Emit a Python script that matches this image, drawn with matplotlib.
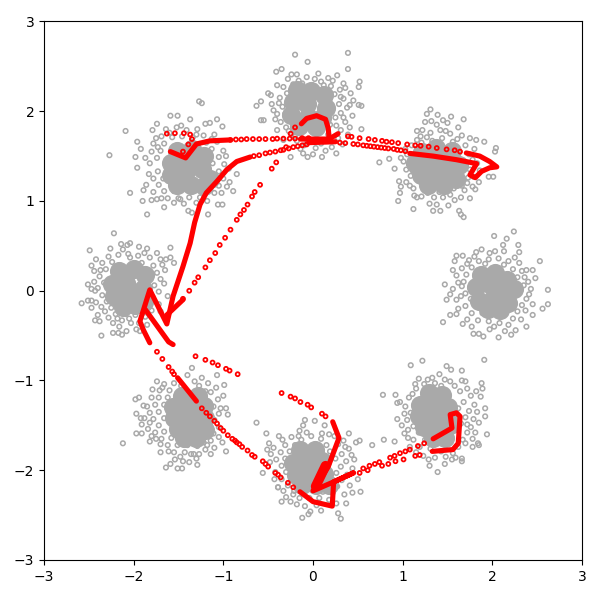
# Ring of eight point clouds with the red tracks drawn over them.

import matplotlib
matplotlib.use("Agg")
import matplotlib.pyplot as plt


gray_top = [
    (-0.20,2.63),(0.39,2.65),(-0.06,2.55),(0.39,2.47),(0.52,2.33),(0.51,2.27),(0.51,2.07),(0.54,2.06),(0.41,1.82),
    (0.54,1.80),(0.26,1.53),(0.10,1.49),(-0.06,1.49),(-0.41,2.44),(-0.35,2.47),(-0.50,2.20),(-0.47,2.18),(-0.58,2.11),
    (-0.63,2.06),(-0.58,1.90),(-0.55,1.90),(-0.42,1.91),(-0.40,1.97),(-0.40,1.79),(-0.25,1.49),(-0.11,1.53),(0.00,1.52),
    (-0.28,2.36),(-0.18,2.41),(-0.07,2.38),(0.06,2.42),(0.17,2.37),(0.27,2.40),(0.34,2.31),(-0.33,2.27),(-0.22,2.30),
    (-0.12,2.31),(-0.01,2.29),(0.09,2.33),(0.20,2.28),(0.30,2.24),(0.42,2.20),(-0.37,2.15),(-0.29,2.20),(0.24,2.19),
    (0.34,2.14),(0.45,2.12),(-0.34,2.05),(0.38,2.04),(-0.31,1.97),(0.31,1.98),(0.44,1.95),(-0.27,1.90),(0.25,1.93),
    (0.36,1.88),(-0.30,1.82),(0.19,1.85),(0.31,1.79),(-0.24,1.75),(0.17,1.74),(0.28,1.70),(-0.18,1.67),(-0.06,1.66),
    (0.09,1.64),(0.21,1.60),(-0.33,1.68),(-0.14,1.58),(0.33,1.63),(-0.24,2.41),(0.12,2.29),(0.36,2.26),(0.41,2.07),
    (0.29,2.08),(0.34,1.93),(0.26,1.84),(0.39,1.74),(-0.38,2.09),(-0.44,2.01),(-0.36,1.88),(-0.27,1.78),(-0.20,1.72),
    (-0.10,1.62),(0.03,1.59),(0.14,1.56),(-0.16,2.34),(0.02,2.36),(0.22,2.34),(0.31,2.16),(-0.40,2.29),(-0.46,2.08),
]
gray_upper_right = [
    (1.31,2.02),(1.27,1.97),(1.39,1.96),(1.54,1.94),(1.68,1.91),(1.45,1.90),(1.32,1.89),(1.25,1.88),(1.50,1.87),
    (1.62,1.82),(1.38,1.85),(1.16,1.78),(1.22,1.79),(1.82,1.68),(1.91,1.66),(2.04,1.59),(2.03,1.55),(0.74,1.43),
    (0.85,1.47),(0.91,1.36),(0.96,1.22),(0.98,1.16),(0.97,1.09),(0.95,1.00),(1.12,0.91),(1.16,1.04),(1.30,0.97),
    (1.38,0.96),(1.34,0.89),(1.42,0.89),(1.51,0.95),(1.63,0.89),(1.65,0.85),(1.68,0.82),(1.75,1.03),(1.81,1.13),
    (1.85,1.21),(1.96,1.27),(2.01,1.27),(1.20,1.72),(1.31,1.76),(1.42,1.79),(1.53,1.75),(1.66,1.73),(1.75,1.70),
    (1.10,1.62),(1.21,1.65),(1.33,1.67),(1.44,1.70),(1.56,1.66),(1.70,1.62),(1.80,1.58),(1.05,1.52),(1.74,1.52),
    (1.01,1.44),(1.83,1.42),(1.04,1.35),(1.75,1.35),(1.09,1.28),(1.79,1.27),(1.04,1.21),(1.72,1.20),(1.12,1.14),
    (1.23,1.17),(1.57,1.14),(1.69,1.12),(1.28,1.09),(1.41,1.10),(1.53,1.07),(1.65,1.04),(1.21,1.05),(1.27,1.71),
    (1.48,1.78),(1.61,1.69),(1.16,1.68),(1.03,1.58),(0.98,1.48),(1.07,1.41),(1.11,1.34),(1.78,1.46),(1.68,1.41),
    (1.86,1.34),(1.73,1.26),(1.66,1.17),(1.45,1.04),(1.35,1.04),(1.13,1.06),(1.08,1.17),(1.58,1.01),(1.78,1.16),
]
gray_right = [
    (2.02,0.61),(2.24,0.66),(2.16,0.58),(2.29,0.51),(2.12,0.51),(1.88,0.46),(1.82,0.43),(1.97,0.42),(2.03,0.44),
    (2.13,0.44),(1.60,0.39),(1.67,0.39),(1.58,0.33),(2.53,0.33),(2.45,0.23),(2.62,0.01),(1.47,0.07),(2.48,0.14),
    (2.38,0.23),(2.36,0.15),(2.62,-0.15),(2.56,-0.20),(2.45,-0.27),(1.45,-0.35),(1.53,-0.27),(1.62,-0.20),(1.67,-0.37),
    (1.79,-0.48),(1.85,-0.48),(1.90,-0.51),(2.07,-0.52),(2.21,-0.49),(2.26,-0.44),(2.38,-0.40),(1.97,-0.43),(1.49,-0.10),
    (1.62,0.09),(1.74,0.34),(1.85,0.33),(1.96,0.35),(2.07,0.36),(2.18,0.33),(2.30,0.31),(1.66,0.25),(1.77,0.26),
    (2.23,0.24),(2.33,0.22),(1.60,0.17),(1.71,0.18),(2.28,0.15),(1.68,0.10),(2.35,0.06),(1.56,0.02),(1.70,-0.03),
    (2.30,0.00),(2.43,0.02),(2.38,-0.09),(1.60,-0.10),(1.76,-0.09),(2.33,-0.16),(1.70,-0.17),(2.28,-0.23),(1.77,-0.25),
    (1.89,-0.25),(2.12,-0.28),(2.23,-0.31),(1.72,-0.32),(1.84,-0.33),(1.96,-0.34),(2.08,-0.36),(2.18,-0.38),(1.92,0.30),
    (2.13,0.29),(1.72,0.30),(1.80,0.38),(2.25,0.37),(2.40,0.10),(2.41,-0.04),(2.37,-0.22),(2.32,-0.32),(1.65,-0.06),
    (1.60,-0.26),(1.77,-0.40),(2.02,-0.40),(2.14,-0.45),(1.66,0.05),(1.53,-0.04),(1.56,0.23),(2.45,-0.15),(2.30,0.43),
]
gray_lower_right = [
    (1.91,-0.77),(1.22,-0.78),(1.09,-0.83),(1.49,-0.84),(1.66,-0.89),(1.54,-0.88),(1.41,-0.93),(1.33,-0.97),(1.18,-0.98),
    (1.66,-1.00),(1.88,-1.03),(1.89,-1.09),(0.78,-1.16),(0.92,-1.16),(0.94,-1.25),(0.97,-1.24),(1.87,-1.18),(1.92,-1.31),
    (1.92,-1.40),(1.83,-1.35),(0.94,-1.43),(1.85,-1.47),(1.94,-1.60),(1.06,-1.55),(1.06,-1.64),(0.79,-1.66),(0.91,-1.68),
    (1.78,-1.65),(1.84,-1.70),(1.85,-1.72),(1.78,-1.74),(1.66,-1.87),(1.66,-1.90),(1.55,-1.88),(1.47,-1.93),(1.30,-1.95),
    (1.39,-2.02),(1.24,-1.04),(1.36,-1.03),(1.47,-0.99),(1.58,-1.06),(1.72,-1.09),(1.15,-1.09),(1.76,-1.17),(1.07,-1.19),
    (1.68,-1.24),(1.80,-1.27),(1.03,-1.29),(1.14,-1.27),(1.62,-1.31),(1.74,-1.34),(1.09,-1.36),(1.70,-1.41),(1.79,-1.43),
    (1.05,-1.44),(1.65,-1.48),(1.76,-1.52),(1.12,-1.51),(1.60,-1.55),(1.72,-1.58),(1.02,-1.59),(1.18,-1.58),(1.67,-1.66),
    (1.12,-1.66),(1.25,-1.66),(1.62,-1.74),(1.08,-1.74),(1.19,-1.74),(1.31,-1.76),(1.43,-1.79),(1.56,-1.81),(1.23,-1.84),
    (1.36,-1.86),(1.14,-1.04),(1.28,-0.99),(1.43,-1.06),(1.53,-1.01),(1.64,-1.12),(1.70,-1.01),(1.82,-1.12),(1.11,-1.15),
    (1.02,-1.37),(0.99,-1.50),(1.70,-1.70),(1.48,-1.85),(1.15,-1.80),(1.29,-1.88),(1.72,-1.49),(1.81,-1.58),(1.59,-1.86),
]
gray_bottom = [
    (0.40,-1.59),(-0.09,-1.44),(0.02,-1.45),(-0.11,-1.50),(-0.15,-1.56),(0.13,-1.50),(0.52,-1.67),(0.48,-1.69),(0.66,-1.72),
    (0.36,-1.74),(0.40,-1.76),(0.46,-1.88),(0.53,-2.24),(0.41,-2.17),(0.37,-2.37),(0.28,-2.48),(0.31,-2.54),(0.09,-2.45),
    (-0.03,-2.46),(-0.05,-2.49),(-0.12,-2.53),(-0.35,-2.35),(-0.39,-2.19),(-0.33,-2.23),(-0.22,-2.27),(-0.09,-2.40),(-0.63,-1.47),
    (-0.52,-1.59),(-0.38,-1.62),(-0.49,-1.70),(-0.51,-1.77),(-0.44,-1.75),(-0.48,-1.91),(-0.56,-2.03),(-0.39,-2.19),(-0.24,-1.63),
    (-0.13,-1.66),(-0.02,-1.62),(0.09,-1.65),(0.24,-1.62),(-0.31,-1.72),(-0.20,-1.72),(0.15,-1.72),(0.28,-1.71),(-0.36,-1.80),
    (-0.26,-1.79),(0.19,-1.79),(0.32,-1.82),(-0.41,-1.88),(-0.31,-1.87),(0.25,-1.87),(0.37,-1.90),(-0.35,-1.95),(0.31,-1.96),
    (0.44,-1.98),(-0.42,-2.02),(-0.30,-2.02),(0.26,-2.03),(0.38,-2.05),(-0.35,-2.10),(-0.24,-2.09),(0.32,-2.11),(-0.28,-2.17),
    (0.27,-2.18),(-0.21,-2.23),(-0.11,-2.23),(0.11,-2.24),(0.22,-2.25),(-0.15,-2.31),(-0.04,-2.31),(0.07,-2.31),(0.18,-2.33),
    (-0.25,-2.35),(-0.07,-1.58),(0.18,-1.60),(0.34,-1.67),(0.43,-1.83),(0.50,-2.10),(0.35,-2.27),(0.26,-2.37),(-0.18,-2.38),
    (-0.30,-2.30),(-0.43,-2.10),(-0.47,-1.82),(-0.34,-1.66),(-0.16,-1.62),(0.10,-1.59),(0.44,-2.25),(0.04,-2.39),
]
gray_lower_left = [
    (-1.35,-0.86),(-1.40,-0.94),(-1.07,-0.94),(-1.24,-0.97),(-1.74,-1.01),(-0.99,-1.05),(-1.79,-1.10),(-1.80,-1.19),(-1.98,-1.21),
    (-1.94,-1.19),(-0.97,-1.31),(-1.03,-1.31),(-1.89,-1.28),(-1.85,-1.29),(-1.97,-1.37),(-1.92,-1.42),(-1.88,-1.42),(-1.91,-1.49),
    (-0.95,-1.38),(-1.84,-1.54),(-1.97,-1.59),(-1.91,-1.59),(-2.12,-1.70),(-1.82,-1.68),(-1.70,-1.80),(-0.97,-1.79),(-1.01,-1.69),
    (-1.14,-1.82),(-1.20,-1.77),(-1.33,-1.82),(-1.27,-1.82),(-1.30,-1.87),(-1.45,-1.90),(-1.38,-1.91),(-1.29,-1.94),(-1.59,-1.93),
    (-1.54,-1.88),(-1.64,-1.97),(-1.51,-1.98),(-1.46,-1.98),(-1.66,-1.04),(-1.55,-1.03),(-1.32,-1.01),(-1.17,-1.03),(-1.08,-1.08),
    (-1.71,-1.11),(-1.60,-1.11),(-1.14,-1.13),(-1.72,-1.19),(-1.62,-1.19),(-1.06,-1.21),(-1.76,-1.27),(-1.66,-1.27),(-1.11,-1.29),
    (-1.72,-1.35),(-1.05,-1.37),(-1.78,-1.43),(-1.66,-1.42),(-1.10,-1.44),(-1.72,-1.50),(-1.05,-1.52),(-1.76,-1.58),(-1.66,-1.57),
    (-1.11,-1.59),(-1.69,-1.65),(-1.58,-1.64),(-1.14,-1.67),(-1.62,-1.72),(-1.51,-1.72),(-1.40,-1.72),(-1.29,-1.73),(-1.18,-1.72),
    (-1.55,-1.80),(-1.43,-1.80),(-1.36,-1.82),(-1.47,-1.06),(-1.27,-1.06),(-1.82,-1.36),(-1.68,-1.08),(-1.82,-1.47),(-1.05,-1.63),
    (-1.10,-1.75),(-1.22,-1.69),(-1.48,-1.85),(-1.61,-1.79),(-1.70,-1.71),(-1.80,-1.62),(-1.20,-1.12),(-1.00,-1.17),(-1.75,-1.65),
]
gray_left = [
    (-2.22,0.64),(-2.49,0.45),(-2.26,0.47),(-2.14,0.52),(-2.07,0.51),(-2.04,0.53),(-1.94,0.49),(-1.85,0.47),(-2.47,0.28),
    (-2.37,0.23),(-1.59,0.48),(-1.74,0.42),(-1.70,0.35),(-1.64,0.35),(-1.59,0.37),(-2.51,0.07),(-2.47,0.02),(-2.43,0.00),
    (-1.65,0.23),(-1.55,0.31),(-2.58,-0.14),(-2.51,-0.11),(-2.47,-0.11),(-2.43,-0.33),(-2.38,-0.34),(-2.36,-0.50),(-2.23,-0.47),
    (-2.17,-0.47),(-2.13,-0.49),(-2.08,-0.45),(-2.16,-0.40),(-1.97,-0.43),(-1.93,-0.45),(-2.03,-0.36),(-2.32,-0.23),(-2.23,-0.36),
    (-2.28,0.38),(-2.17,0.40),(-2.06,0.41),(-1.95,0.39),(-1.82,0.37),(-2.35,0.31),(-2.24,0.32),(-1.91,0.31),(-1.78,0.28),
    (-2.31,0.24),(-1.74,0.20),(-2.38,0.16),(-1.70,0.13),(-2.33,0.09),(-1.77,0.06),(-2.40,0.03),(-1.72,-0.01),(-2.35,-0.05),
    (-1.79,-0.07),(-2.42,-0.13),(-2.30,-0.12),(-1.72,-0.15),(-2.36,-0.18),(-2.25,-0.19),(-1.80,-0.22),(-2.20,-0.26),(-2.09,-0.26),
    (-1.98,-0.27),(-1.87,-0.29),(-2.28,-0.30),(-2.13,-0.33),(-1.94,-0.36),(-2.42,0.35),(-2.12,0.46),(-1.88,0.42),(-1.68,0.29),
    (-1.66,0.08),(-1.62,-0.06),(-1.70,-0.23),(-1.85,-0.38),(-2.05,-0.31),(-2.18,-0.31),(-2.40,-0.27),(-2.47,-0.19),(-2.44,0.10),
    (-2.44,0.22),(-2.04,0.37),
]
gray_upper_left = [
    (-1.27,2.11),(-1.24,2.09),(-1.59,1.95),(-1.51,1.95),(-1.37,1.91),(-1.07,1.91),(-1.74,1.86),(-2.09,1.78),(-2.27,1.51),
    (-1.79,1.79),(-1.96,1.66),(-1.92,1.58),(-1.98,1.49),(-1.96,1.37),(-2.04,1.09),(-1.89,1.12),(-1.90,1.00),(-1.85,0.85),
    (-1.66,0.93),(-1.39,0.89),(-1.35,0.87),(-1.17,0.85),(-1.06,0.96),(-1.01,0.96),(-0.89,1.11),(-0.85,1.30),(-1.01,1.83),
    (-1.15,1.87),(-1.20,1.86),(-1.64,1.80),(-1.52,1.82),(-1.41,1.79),(-1.29,1.80),(-1.69,1.72),(-1.57,1.71),(-1.46,1.72),
    (-1.34,1.71),(-1.22,1.73),(-1.10,1.74),(-1.78,1.64),(-1.66,1.64),(-1.19,1.65),(-1.07,1.66),(-1.80,1.55),(-1.70,1.56),
    (-1.13,1.58),(-1.00,1.56),(-1.74,1.48),(-1.05,1.49),(-1.82,1.42),(-1.12,1.42),(-0.99,1.41),(-1.73,1.33),(-1.05,1.33),
    (-1.78,1.25),(-1.67,1.25),(-1.00,1.25),(-1.72,1.18),(-1.05,1.17),(-1.78,1.10),(-1.66,1.11),(-1.55,1.11),(-1.10,1.09),
    (-1.62,1.03),(-1.50,1.03),(-1.38,1.04),(-1.26,1.04),(-1.74,1.02),(-1.55,0.98),(-1.44,0.97),(-1.75,1.70),(-1.60,1.76),
    (-1.47,1.84),(-1.30,1.74),(-1.13,1.69),(-0.97,1.50),(-0.94,1.36),(-0.93,1.21),(-1.83,1.30),(-1.86,1.18),(-1.80,1.01),
    (-1.69,1.03),(-1.30,0.98),(-1.18,1.00),(-1.02,1.09),(-0.96,1.16),(-1.87,1.48),(-1.73,1.60),(-1.48,1.02),
]
# solid middles of the clouds, where the rings run together
core_top = [(-0.18,2.24),(-0.02,2.22),(0.12,2.18),(-0.22,2.10),(-0.07,2.08),(0.14,2.04),(-0.24,1.96),(-0.06,1.94),(0.10,1.92),(-0.16,1.84),(0.03,1.82)]
core_upper_right = [(1.22,1.55),(1.37,1.59),(1.55,1.56),(1.14,1.42),(1.30,1.43),(1.48,1.42),(1.63,1.40),(1.20,1.29),(1.36,1.28),(1.53,1.27),(1.28,1.18),(1.46,1.18),(1.60,1.25)]
core_right = [(1.87,0.17),(2.03,0.20),(2.16,0.12),(1.82,0.04),(1.98,0.06),(2.14,-0.02),(2.24,0.02),(1.85,-0.11),(2.01,-0.09),(2.17,-0.14),(1.95,-0.20),(2.08,-0.22)]
core_lower_right = [(1.29,-1.14),(1.44,-1.16),(1.19,-1.27),(1.34,-1.27),(1.51,-1.29),(1.18,-1.40),(1.33,-1.40),(1.52,-1.41),(1.24,-1.52),(1.40,-1.54),(1.53,-1.50),(1.34,-1.64),(1.47,-1.64)]
core_bottom = [(-0.14,-1.78),(0.02,-1.78),(-0.22,-1.92),(-0.07,-1.90),(0.10,-1.90),(-0.19,-2.05),(-0.04,-2.03),(0.12,-2.04),(-0.12,-2.16),(0.03,-2.16),(0.18,-2.16)]
core_lower_left = [(-1.46,-1.17),(-1.28,-1.17),(-1.56,-1.29),(-1.38,-1.27),(-1.21,-1.28),(-1.55,-1.42),(-1.38,-1.40),(-1.20,-1.42),(-1.50,-1.54),(-1.33,-1.53),(-1.20,-1.55),(-1.44,-1.64),(-1.30,-1.64)]
core_left = [(-2.16,0.22),(-2.00,0.24),(-1.87,0.17),(-2.24,0.08),(-2.08,0.09),(-1.90,0.02),(-2.22,-0.06),(-2.05,-0.05),(-1.88,-0.12),(-2.12,-0.18),(-1.98,-0.16)]
core_upper_left = [(-1.52,1.56),(-1.35,1.58),(-1.58,1.42),(-1.41,1.44),(-1.22,1.50),(-1.58,1.29),(-1.43,1.30),(-1.24,1.36),(-1.15,1.25),(-1.52,1.18),(-1.36,1.18),(-1.21,1.17)]

red_dots = [
    (-1.63,1.75),(-1.54,1.755),(-1.44,1.755),(-1.37,1.74),(-1.35,1.69),(-1.39,1.63),(-1.45,1.55),
    (-0.92,1.68),(-0.86,1.685),(-0.80,1.685),(-0.74,1.69),(-0.67,1.69),(-0.60,1.69),(-0.53,1.69),(-0.45,1.69),(-0.40,1.695),
    (-0.33,1.695),(-0.26,1.695),(-0.20,1.695),(-0.12,1.70),(-0.05,1.70),
    (-0.66,1.50),(-0.60,1.51),(-0.53,1.53),(-0.48,1.54),(-0.42,1.55),(-0.36,1.565),(-0.33,1.57),(-0.27,1.585),(-0.22,1.60),(-0.17,1.61),(-0.12,1.62),(-0.07,1.63),
    (-1.45,-0.09),(-1.38,0.00),(-1.32,0.09),(-1.28,0.15),(-1.20,0.26),(-1.15,0.34),(-1.09,0.42),(-1.04,0.51),(-0.98,0.59),
    (-0.92,0.68),(-0.85,0.79),(-0.81,0.85),(-0.77,0.90),(-0.73,0.96),(-0.68,1.05),(-0.65,1.10),(-0.59,1.18),(-0.46,1.36),
    (-0.41,1.43),(-0.30,1.60),(-0.25,1.75),(-0.20,1.82),
    (0.39,1.72),(0.43,1.715),(0.52,1.70),(0.62,1.69),(0.69,1.68),(0.77,1.67),(0.82,1.66),(0.88,1.655),(0.95,1.645),
    (1.05,1.63),(1.14,1.62),(1.20,1.615),(1.29,1.605),(1.38,1.59),(1.49,1.575),(1.58,1.565),(1.64,1.55),
    (0.30,1.65),(0.36,1.645),(0.45,1.635),(0.50,1.63),(0.56,1.62),(0.60,1.615),(0.64,1.61),(0.68,1.605),(0.72,1.60),(0.76,1.595),
    (0.80,1.59),(0.84,1.585),(0.90,1.58),(0.94,1.57),(0.98,1.565),(1.03,1.555),
    (-1.74,-0.68),(-1.68,-0.76),(-1.61,-0.85),(-1.57,-0.90),(-1.55,-0.93),
    (-1.31,-0.73),(-1.20,-0.77),(-1.12,-0.80),(-1.06,-0.83),(-0.97,-0.87),(-0.93,-0.89),(-0.84,-0.93),
    (-0.35,-1.14),(-0.25,-1.18),(-0.20,-1.20),(-0.14,-1.24),(-0.06,-1.27),(-0.02,-1.30),(0.10,-1.37),(0.14,-1.40),
    (-1.24,-1.31),(-1.19,-1.36),(-1.15,-1.40),(-1.10,-1.45),(-1.07,-1.48),(-1.03,-1.53),(-1.00,-1.56),(-0.95,-1.61),(-0.90,-1.65),(-0.87,-1.67),(-0.85,-1.69),
    (-0.82,-1.71),(-0.79,-1.74),(-0.73,-1.78),(-0.68,-1.83),(-0.65,-1.85),(-0.56,-1.90),(-0.53,-1.93),(-0.50,-1.96),(-0.42,-2.03),(-0.39,-2.05),(-0.36,-2.08),(-0.28,-2.14),(-0.22,-2.19),
    (0.52,-2.03),(0.56,-1.98),(0.61,-2.00),(0.63,-1.95),(0.69,-1.93),(0.74,-1.91),(0.77,-1.95),(0.84,-1.93),(0.92,-1.90),(1.01,-1.88),
    (0.86,-1.86),(0.91,-1.84),(0.97,-1.81),(1.03,-1.79),(1.08,-1.77),(1.17,-1.73),(1.14,-1.84),(1.19,-1.83),(1.24,-1.70),
]
red_line_1 = [(-1.59,1.55),(-1.42,1.48),(-1.30,1.635),(-1.15,1.67),(-0.93,1.68)]
red_line_2 = [
    (-0.70,1.49),(-0.85,1.44),(-0.96,1.35),(-1.07,1.22),(-1.19,1.09),(-1.26,0.96),
    (-1.32,0.76),(-1.37,0.53),(-1.45,0.27),(-1.56,-0.06),(-1.63,-0.37),(-1.82,0.01),(-1.93,-0.34),(-1.89,-0.44),(-1.82,-0.58),
]
red_line_3 = [(-1.87,-0.21),(-1.61,-0.57),(-1.56,-0.60)]
red_line_4 = [(-1.45,-0.10),(-1.63,-0.27)]
red_line_5 = [(-1.51,-0.97),(-1.30,-1.23)]
red_line_6 = [
    (0.22,-1.46),(0.29,-1.64),(0.17,-1.96),(0.10,-2.07),(0.00,-2.23),(0.23,-2.13),(0.45,-2.03),(0.23,-2.13),(0.215,-2.40),
    (0.00,-2.35),(-0.145,-2.24),
]
red_line_7 = [(1.33,-1.79),(1.56,-1.77),(1.62,-1.70),(1.64,-1.40),(1.60,-1.36),(1.53,-1.38),(1.55,-1.53),(1.34,-1.65)]
red_line_8 = [(-0.14,1.69),(0.18,1.69),(0.28,1.75)]
red_line_9 = [(-0.13,1.86),(-0.07,1.92),(0.04,1.95),(0.14,1.91),(0.17,1.81),(0.18,1.70)]
red_line_10 = [(-0.05,1.65),(0.25,1.66)]
red_line_11 = [
    (1.08,1.53),(1.34,1.50),(1.60,1.46),(1.825,1.416),(1.75,1.29),(1.81,1.26),(1.88,1.33),(1.97,1.37),(2.05,1.38),
    (1.97,1.44),(1.86,1.50),(1.71,1.535),
]
red_head = [(0.14,-1.95),(0.03,-2.18)]
red_lines = [red_line_1, red_line_2, red_line_3, red_line_4, red_line_5, red_line_6,
             red_line_7, red_line_8, red_line_9, red_line_10, red_line_11]
gray_clouds = [gray_top, gray_upper_right, gray_right, gray_lower_right,
               gray_bottom, gray_lower_left, gray_left, gray_upper_left]
gray_cores = [core_top, core_upper_right, core_right, core_lower_right,
              core_bottom, core_lower_left, core_left, core_upper_left]


def main() -> None:
    fig, ax = plt.subplots(figsize=(6, 6))
    fig.subplots_adjust(left=0.0733, right=0.97, top=0.9642, bottom=0.0667)

    for cloud in gray_clouds:
        xs, ys = zip(*cloud)
        ax.scatter(xs, ys, s=11, c="none", edgecolors="darkgray", linewidths=1.1)
    for core in gray_cores:
        xs, ys = zip(*core)
        ax.scatter(xs, ys, s=190, c="darkgray", linewidths=0)

    for line in red_lines:
        xs, ys = zip(*line)
        ax.plot(xs, ys, color="red", lw=3.7, solid_capstyle="round", solid_joinstyle="round")
    xs, ys = zip(*red_head)
    ax.plot(xs, ys, color="red", lw=7, solid_capstyle="round")

    xs, ys = zip(*red_dots)
    ax.scatter(xs, ys, s=8, c="none", edgecolors="red", linewidths=1.3)

    ax.set_xlim(-3, 3)
    ax.set_ylim(-3, 3)
    plt.savefig("out.png", dpi=100)
    plt.close()


if __name__ == "__main__":
    main()
